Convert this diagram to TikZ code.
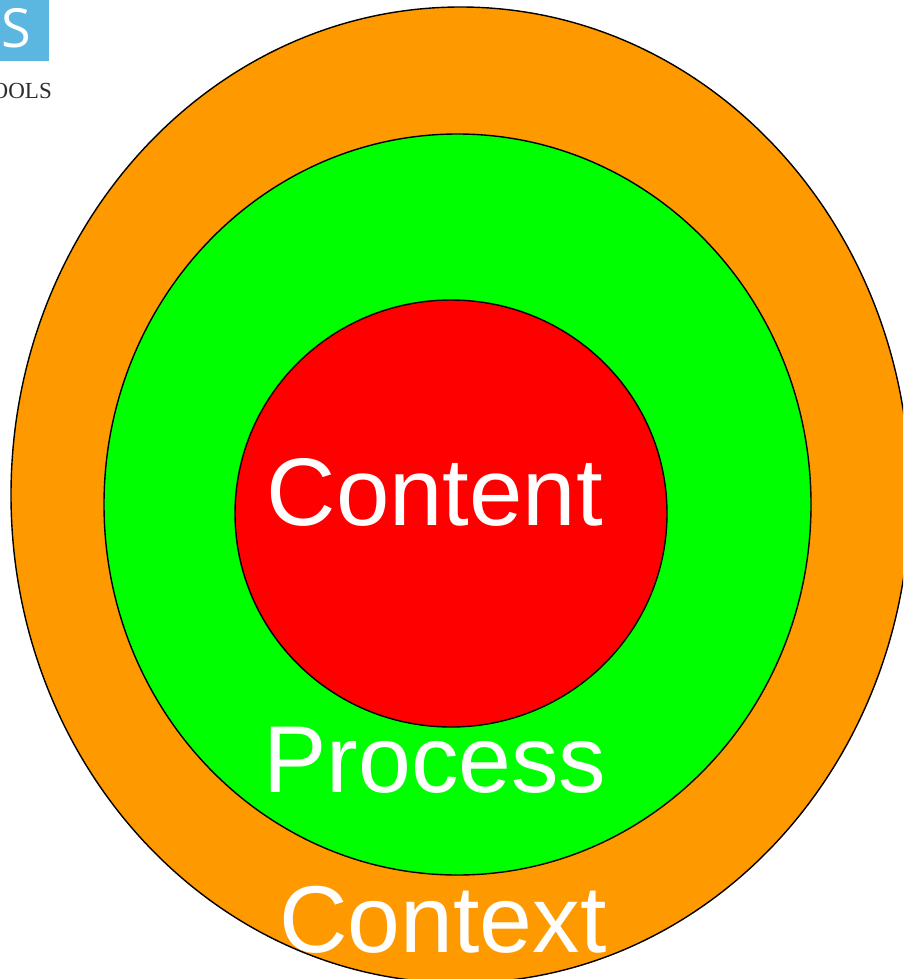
\documentclass[tikz,border=0pt]{standalone}
\usepackage{fontspec}
\setmainfont{Liberation Sans}
\newfontfamily\serifface{Liberation Serif}
\newfontfamily\logoface{Open Sans}
\definecolor{ringorange}{RGB}{255,153,0}
\definecolor{ringgreen}{RGB}{0,255,0}
\definecolor{ringred}{RGB}{255,0,0}
\definecolor{logoblue}{RGB}{91,183,224}
\definecolor{logotext}{RGB}{45,45,45}
\tikzset{
  ring/.style={draw=black,line width=1.4pt},
  label/.style={text=white,inner sep=0pt,anchor=base west,font=\fontsize{95}{95}\selectfont}
}
\begin{document}
\begin{tikzpicture}[x=1pt,y=-1pt]
\useasboundingbox (0,0) rectangle (903,979);
\begin{scope}
\clip (0,0) rectangle (903,979);
\fill[logoblue] (0,0) rectangle (49,61);
\node[text=white,inner sep=0pt,anchor=base,font=\logoface\fontsize{54}{54}\selectfont] (logoS) at (16,48) {S};
\node[text=logotext,inner sep=0pt,anchor=base east,font=\serifface\fontsize{23}{23}\selectfont] (logoT) at (52,98.5) {OOLS};
\path[ring,fill=ringorange] (460.5,495) ellipse [x radius=449.5,y radius=488];
\path[ring,fill=ringgreen] (457.5,504.5) ellipse [x radius=353.5,y radius=370.5];
\path[ring,fill=ringred] (451,513.5) ellipse [x radius=216,y radius=213.5];
\node[label,font=\fontsize{96}{96}\selectfont] (content) at (266.5,525) {Content};
\node[label] (process) at (263,792) {Process};
\node[label] (context) at (279,952) {Context};
\end{scope}
\end{tikzpicture}
\end{document}
